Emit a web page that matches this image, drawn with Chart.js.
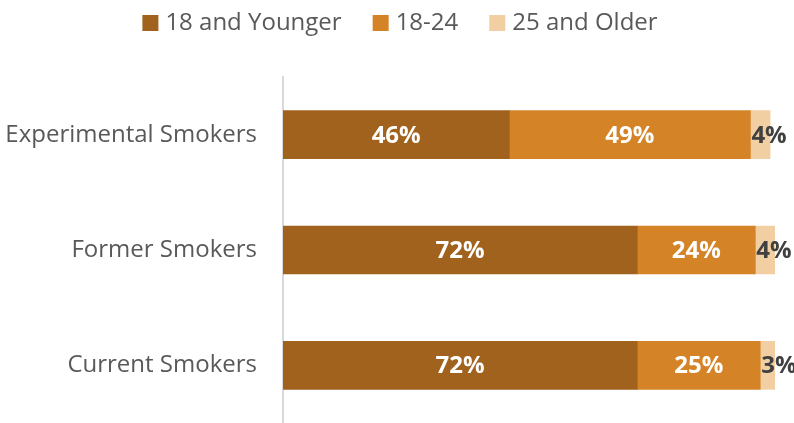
<!DOCTYPE html>
<html>
<head>
<meta charset="utf-8">
<script src="https://cdn.jsdelivr.net/npm/chart.js@4"></script>
<style>
  html, body { margin: 0; padding: 0; background: #fff; }
  #wrap { width: 794px; height: 423px; }
</style>
</head>
<body>
<div id="wrap"><canvas id="chart-area"></canvas></div>
<script>
'use strict';

const groups = ['Experimental Smokers', 'Former Smokers', 'Current Smokers'];
const seriesNames = ['18 and Younger', '18-24', '25 and Older'];
const youngest = [46, 72, 72];
const middle = [49, 24, 25];
const oldest = [4, 4, 3];

const colors = ['#A0621C', '#D48426', '#F2CFA2'];
const font = "'Open Sans', sans-serif";

// percent labels on top of each segment
const segmentLabels = {
  id: 'segmentLabels',
  afterDatasetsDraw(chart) {
    const ctx = chart.ctx;
    ctx.save();
    ctx.font = 'bold 24px ' + font;
    ctx.textBaseline = 'middle';
    chart.data.datasets.forEach((ds, i) => {
      const meta = chart.getDatasetMeta(i);
      meta.data.forEach((bar, j) => {
        const txt = ds.data[j] + '%';
        if (i < 2) {
          ctx.fillStyle = '#ffffff';
          ctx.textAlign = 'center';
          ctx.fillText(txt, (bar.x + bar.base) / 2, bar.y + 1);
        } else {
          ctx.fillStyle = '#404040';
          ctx.textAlign = 'left';
          ctx.fillText(txt, bar.base + 1, bar.y + 1);
        }
      });
    });
    ctx.restore();
  }
};

// legend row drawn by hand so the spacing can be tight
const topLegend = {
  id: 'topLegend',
  afterDraw(chart) {
    const ctx = chart.ctx;
    const box = 16, gap = 7, space = 31, cy = 23;
    ctx.save();
    ctx.font = '24px ' + font;
    ctx.textBaseline = 'middle';
    const widths = chart.data.datasets.map(ds => ctx.measureText(ds.label).width);
    let total = 0;
    widths.forEach(w => { total += box + gap + w; });
    total += space * (widths.length - 1);
    let x = (chart.width - total) / 2 + 3;
    chart.data.datasets.forEach((ds, i) => {
      ctx.fillStyle = ds.backgroundColor;
      ctx.fillRect(x, cy - box / 2, box, box);
      x += box + gap;
      ctx.fillStyle = '#595959';
      ctx.textAlign = 'left';
      ctx.fillText(ds.label, x, cy);
      x += widths[i] + space;
    });
    ctx.restore();
  }
};

var config = {
  type: 'bar',
  data: {
    labels: groups,
    datasets: [
      {label: seriesNames[0], data: youngest, backgroundColor: colors[0]},
      {label: seriesNames[1], data: middle, backgroundColor: colors[1]},
      {label: seriesNames[2], data: oldest, backgroundColor: colors[2]}
    ]
  },
  options: {
    indexAxis: 'y',
    responsive: true,
    maintainAspectRatio: false,
    animation: false,
    datasets: { bar: { barThickness: 48 } },
    layout: { padding: { left: 0, right: 19, top: 77, bottom: -2 } },
    plugins: {
      tooltip: { enabled: false },
      legend: { display: false }
    },
    scales: {
      x: {
        stacked: true,
        min: 0,
        max: 100,
        display: false
      },
      y: {
        stacked: true,
        grid: { display: false, drawTicks: false },
        border: { display: true, color: '#d9d9d9', width: 2 },
        ticks: {
          padding: 26,
          color: '#595959',
          font: { family: font, size: 24 }
        },
        afterFit(scale) {
          scale.width = 283;
          // tick padding would otherwise eat space above and below the bars
          scale.paddingTop = 0;
          scale.paddingBottom = 0;
        }
      }
    }
  },
  plugins: [segmentLabels, topLegend]
};

window.onload = function() {
  var ctx = document.getElementById('chart-area').getContext('2d');
  window.myBar = new Chart(ctx, config);
};
</script>
</body>
</html>
